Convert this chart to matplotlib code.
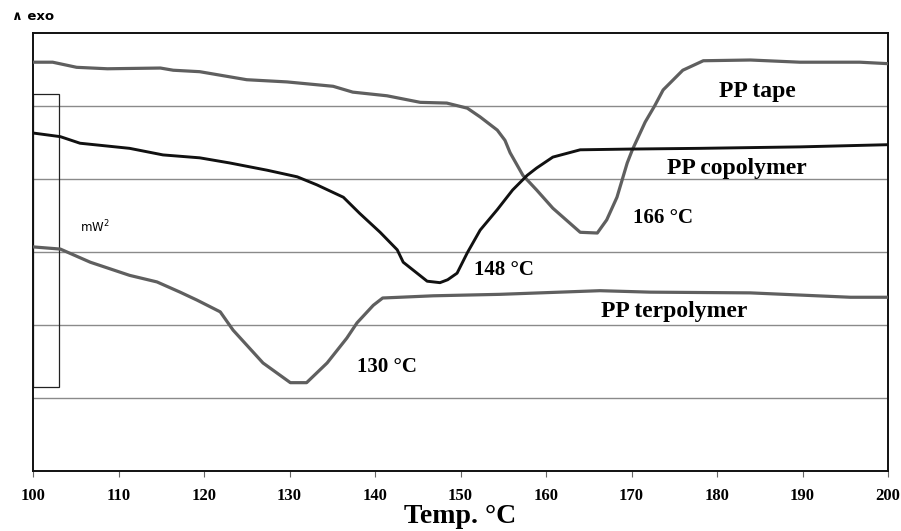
import matplotlib
matplotlib.use("Agg")
import matplotlib.pyplot as plt
from matplotlib.patches import Rectangle

# DSC traces (temperature in degC, heat flow in arbitrary units)
tape_t = [100.0, 102.3, 105.1, 108.7, 114.9, 116.4, 119.5, 125.0, 129.7, 135.1, 137.4,
          141.4, 145.3, 148.4, 150.8, 152.3, 154.3, 155.2, 155.8, 157.3, 158.9, 160.8,
          164.0, 166.0, 167.1, 168.3, 169.5, 170.1, 171.6, 172.7, 173.7, 176.0, 178.4,
          183.9, 189.7, 196.7, 200.0]
tape_y = [5.60, 5.60, 5.53, 5.51, 5.52, 5.49, 5.47, 5.36, 5.33, 5.27, 5.19,
          5.14, 5.05, 5.04, 4.97, 4.85, 4.67, 4.53, 4.36, 4.05, 3.85, 3.60,
          3.27, 3.26, 3.44, 3.75, 4.22, 4.40, 4.78, 5.00, 5.22, 5.49, 5.62,
          5.63, 5.60, 5.60, 5.58]

copo_t = [100.0, 103.2, 105.5, 111.3, 115.2, 119.5, 123.0, 127.4, 130.9, 133.2, 136.3,
          138.2, 140.6, 142.6, 143.3, 146.1, 147.6, 148.5, 149.6, 150.8, 152.3, 154.3,
          156.1, 157.8, 158.9, 160.8, 164.0, 169.8, 178.0, 189.7, 200.0]
copo_y = [4.63, 4.58, 4.49, 4.42, 4.33, 4.29, 4.22, 4.12, 4.03, 3.92, 3.75,
          3.53, 3.27, 3.03, 2.86, 2.60, 2.58, 2.62, 2.71, 2.99, 3.30, 3.58,
          3.85, 4.05, 4.15, 4.30, 4.40, 4.41, 4.42, 4.44, 4.47]

terp_t = [100.0, 103.2, 106.7, 111.3, 114.5, 117.2, 119.2, 121.9, 123.4, 126.9, 130.1,
          132.0, 134.4, 136.7, 137.9, 139.8, 140.9, 142.9, 146.8, 154.6, 166.3, 172.2,
          183.9, 195.6, 200.0]
terp_y = [3.07, 3.04, 2.86, 2.68, 2.59, 2.45, 2.34, 2.18, 1.93, 1.48, 1.21,
          1.21, 1.48, 1.82, 2.03, 2.27, 2.37, 2.38, 2.40, 2.42, 2.47, 2.45,
          2.44, 2.38, 2.38]

x_ticks = [100, 110, 120, 130, 140, 150, 160, 170, 180, 190, 200]
grid_levels = [1, 2, 3, 4, 5]

serif = ["Liberation Serif", "DejaVu Serif"]

fig = plt.figure(figsize=(9.01, 5.31), dpi=100)
ax = fig.add_axes([33 / 901, 60 / 531, 855 / 901, 438 / 531])

for g in grid_levels:
    ax.axhline(g, color="#8a8a8a", lw=1.0, zorder=1)

ax.plot(tape_t, tape_y, color="#5f5f5f", lw=2.3, zorder=3, solid_joinstyle="round")
ax.plot(copo_t, copo_y, color="#111111", lw=2.1, zorder=3, solid_joinstyle="round")
ax.plot(terp_t, terp_y, color="#5f5f5f", lw=2.3, zorder=3, solid_joinstyle="round")

# scale box at the left
ax.add_patch(Rectangle((100, 1.155), 3.08, 4.005, fill=False, ec="#222222", lw=0.9, zorder=2))
ax.text(105.5, 3.34, r"mW$^2$", fontsize=8.5, family="DejaVu Sans", va="center")

lab = dict(fontweight="bold", family=serif, va="center")
ax.text(184.7, 5.20, "PP tape", fontsize=17, ha="center", **lab)
ax.text(182.3, 4.15, "PP copolymer", fontsize=17, ha="center", **lab)
ax.text(175.0, 2.18, "PP terpolymer", fontsize=17, ha="center", **lab)
ax.text(170.2, 3.46, "166 \u00b0C", fontsize=15, **lab)
ax.text(151.6, 2.75, "148 \u00b0C", fontsize=15, **lab)
ax.text(137.9, 1.43, "130 \u00b0C", fontsize=15, **lab)

ax.set_xlim(100, 200)
ax.set_ylim(0, 6)
ax.set_xticks(x_ticks)
ax.set_xticklabels([str(t) for t in x_ticks], fontsize=12, fontweight="bold", family=serif)
ax.set_yticks([])
ax.tick_params(axis="x", direction="out", length=4, width=0.8, color="#666666", pad=8)
for s in ax.spines.values():
    s.set_linewidth(1.4)
    s.set_color("#111111")
ax.set_xlabel("Temp. \u00b0C", fontsize=20, fontweight="bold", family=serif, labelpad=0)

fig.text(12 / 901, 1 - 16 / 531, "\u2227 exo", fontsize=9.5, fontweight="bold",
         family="DejaVu Sans", va="center")

fig.savefig("out.png", dpi=100)
